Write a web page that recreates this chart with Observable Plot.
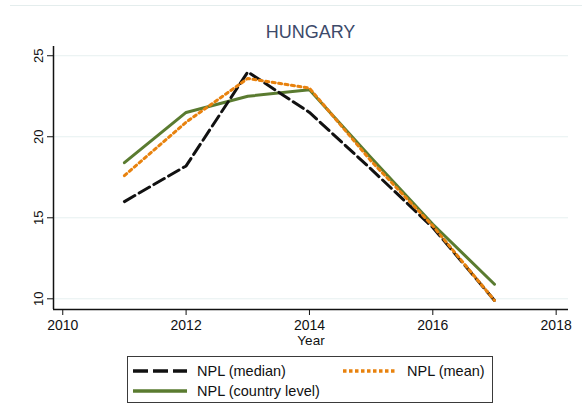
<!DOCTYPE html>
<html>
<head>
<meta charset="utf-8">
<script src="https://cdn.jsdelivr.net/npm/d3@7"></script>
<script src="https://cdn.jsdelivr.net/npm/@observablehq/plot@0.6"></script>
<style>
  html, body { margin: 0; padding: 0; background: #fff; }
  body { width: 582px; height: 419px; position: relative; overflow: hidden; font-family: "Liberation Sans", Arial, sans-serif; }
  #topline { position: absolute; top: 5px; left: 10px; right: 0; height: 1px; background: #e4eded; }
  #title { position: absolute; top: 23px; left: 53px; width: 515px; text-align: center; font-size: 18px; line-height: 18px; color: #3c4a6a; }
  #chart { position: absolute; top: 40px; left: 0; }
  #legend { position: absolute; left: 127px; top: 356px; width: 364px; height: 45px; border: 1.5px solid #3a3a3a; }
  .item { position: absolute; display: flex; align-items: center; font-size: 14.5px; color: #111; height: 16px; }
  .item svg { margin-right: 10px; }
</style>
</head>
<body>
<div id="topline"></div>
<div id="title">HUNGARY</div>
<div id="chart"></div>
<div id="legend"></div>
<script>
const years = [2011, 2012, 2013, 2014, 2015, 2016, 2017];
const nplMedian = [16.0, 18.2, 24.0, 21.5, 18.0, 14.4, 9.9];
const nplMean = [17.6, 20.9, 23.6, 23.0, 18.5, 14.5, 9.9];
const nplCountry = [18.4, 21.5, 22.5, 22.9, 18.7, 14.6, 10.9];
const xTicks = [2010, 2012, 2014, 2016, 2018];
const yTicks = [10, 15, 20, 25];
const seriesNames = ["NPL (median)", "NPL (mean)", "NPL (country level)"];

const xDomain = [2009.85, 2018.2];
const yDomain = [9.34, 25.57];

const black = "#111111", orange = "#e8820e", green = "#5a7b30";

const chart = Plot.plot({
  width: 582,
  height: 313,
  marginTop: 6,
  marginBottom: 44,
  marginLeft: 53,
  marginRight: 14,
  style: { fontFamily: '"Liberation Sans", Arial, sans-serif', color: "#111", background: "transparent" },
  x: { domain: xDomain },
  y: { domain: yDomain },
  marks: [
    Plot.gridY(yTicks, { stroke: "#e6f0f0", strokeOpacity: 1, strokeWidth: 1 }),
    Plot.ruleX([xDomain[0]], { stroke: "#111", strokeWidth: 1.5 }),
    Plot.ruleY([yDomain[0]], { stroke: "#111", strokeWidth: 1.5 }),
    Plot.axisY(yTicks, { tickRotate: -90, tickSize: 6, tickPadding: 5, fontSize: 13, label: null, stroke: "#111" }),
    Plot.axisX(xTicks, { tickSize: 6, tickPadding: 5, fontSize: 14, label: null, tickFormat: d => String(d), stroke: "#111" }),
    Plot.text(["Year"], { frameAnchor: "bottom", dy: 35, fontSize: 13.5, fill: "#111" }),
    Plot.lineY(nplCountry, { x: years, y: nplCountry, stroke: green, strokeWidth: 3 }),
    Plot.lineY(nplMedian, { x: years, y: nplMedian, stroke: black, strokeWidth: 3, strokeDasharray: "12,5" }),
    Plot.lineY(nplMean, { x: years, y: nplMean, stroke: orange, strokeWidth: 3, strokeDasharray: "3,3.5" })
  ]
});
document.getElementById("chart").appendChild(chart);

// Legend
const legend = document.getElementById("legend");
const entries = [
  { name: seriesNames[0], color: black, dash: "15,5", left: 5, top: 6 },
  { name: seriesNames[1], color: orange, dash: "3.5,2.5", left: 215, top: 6 },
  { name: seriesNames[2], color: green, dash: null, left: 5, top: 26 }
];
for (const e of entries) {
  const div = document.createElement("div");
  div.className = "item";
  div.style.left = e.left + "px";
  div.style.top = e.top + "px";
  const svg = d3.create("svg").attr("width", 54).attr("height", 8);
  svg.append("line").attr("x1", 0).attr("x2", 54).attr("y1", 4).attr("y2", 4)
    .attr("stroke", e.color).attr("stroke-width", 3.5)
    .attr("stroke-dasharray", e.dash);
  div.appendChild(svg.node());
  const span = document.createElement("span");
  span.textContent = e.name;
  div.appendChild(span);
  legend.appendChild(div);
}
</script>
</body>
</html>
